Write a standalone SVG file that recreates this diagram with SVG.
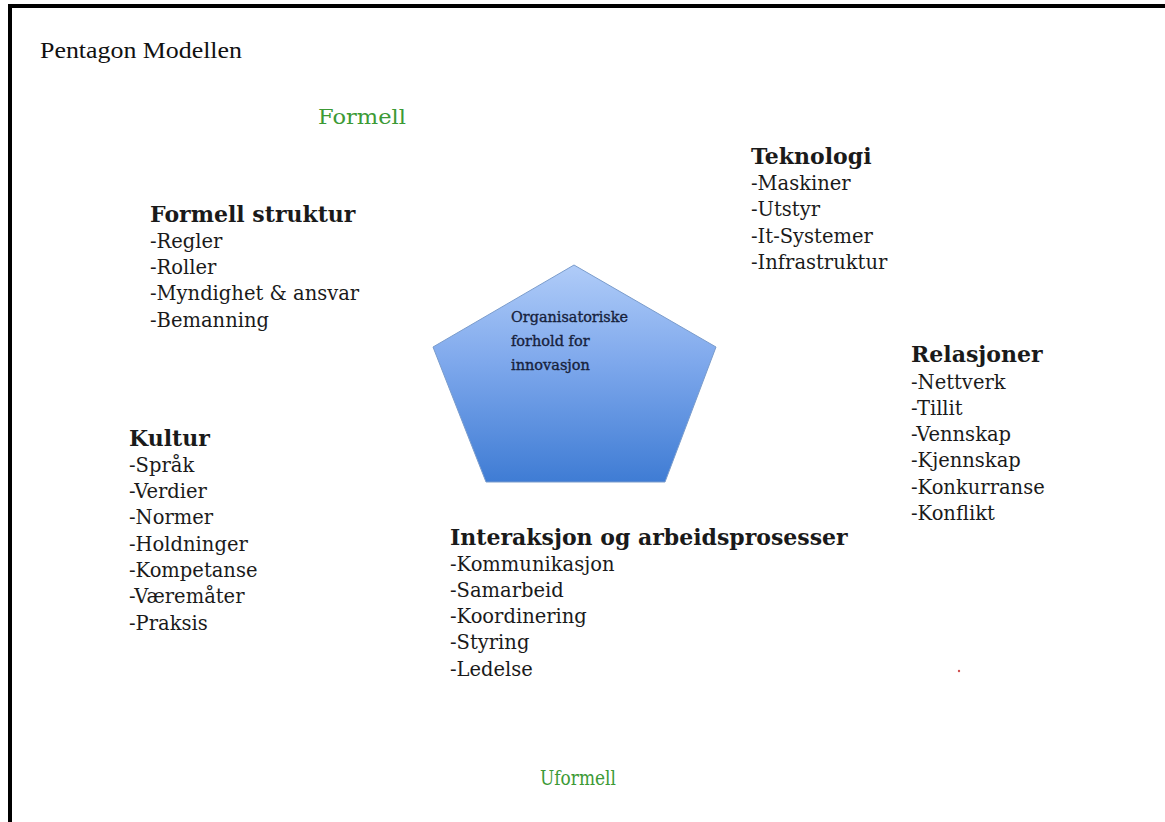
<svg xmlns="http://www.w3.org/2000/svg" width="1165" height="822" viewBox="0 0 1165 822">
<defs>
<linearGradient id="pg" x1="0" y1="0" x2="0" y2="1">
<stop offset="0" stop-color="#b0ccf8"/>
<stop offset="0.45" stop-color="#7ea8ec"/>
<stop offset="1" stop-color="#3f7cd4"/>
</linearGradient>
<style>
.t{font-family:"DejaVu Serif","Liberation Serif",serif;font-size:19.5px;fill:#1a1a1a}
.h{font-weight:bold;font-size:22px}
.g{font-family:"DejaVu Serif","Liberation Serif",serif;font-size:21px;fill:#3c9a35}
.c{font-family:"DejaVu Serif","Liberation Serif",serif;font-size:14.5px;fill:#17223c;stroke:#17223c;stroke-width:0.35px}
</style>
</defs>
<rect width="1165" height="822" fill="#ffffff"/>
<path d="M10 830 V6 H1175" fill="none" stroke="#000" stroke-width="4"/>
<text x="40" y="58" font-family="Liberation Serif,serif" font-size="24" fill="#111" textLength="202" lengthAdjust="spacingAndGlyphs">Pentagon Modellen</text>
<text class="g" x="318" y="124" textLength="88" lengthAdjust="spacingAndGlyphs">Formell</text>
<text class="g" x="540" y="785" textLength="76" lengthAdjust="spacingAndGlyphs">Uformell</text>
<g id="center">
<polygon points="574,265 716,347 665,482 486,482 433,347" fill="url(#pg)" stroke="#7a9ccc" stroke-width="1"/>
<text class="c" x="511" y="322" textLength="117" lengthAdjust="spacingAndGlyphs">Organisatoriske</text>
<text class="c" x="511" y="346">forhold for</text>
<text class="c" x="511" y="370">innovasjon</text>
</g>
<g id="teknologi">
<text class="t h" x="751" y="164">Teknologi</text>
<text class="t" x="751" y="190">-Maskiner</text>
<text class="t" x="751" y="216">-Utstyr</text>
<text class="t" x="751" y="243">-It-Systemer</text>
<text class="t" x="751" y="269">-Infrastruktur</text>
</g>
<g id="formell">
<text class="t h" x="150" y="222">Formell struktur</text>
<text class="t" x="150" y="248">-Regler</text>
<text class="t" x="150" y="274">-Roller</text>
<text class="t" x="150" y="300">-Myndighet &amp; ansvar</text>
<text class="t" x="150" y="327">-Bemanning</text>
</g>
<g id="relasjoner">
<text class="t h" x="911" y="362">Relasjoner</text>
<text class="t" x="911" y="389">-Nettverk</text>
<text class="t" x="911" y="415">-Tillit</text>
<text class="t" x="911" y="441">-Vennskap</text>
<text class="t" x="911" y="467">-Kjennskap</text>
<text class="t" x="911" y="494">-Konkurranse</text>
<text class="t" x="911" y="520">-Konflikt</text>
</g>
<g id="kultur">
<text class="t h" x="129" y="446">Kultur</text>
<text class="t" x="129" y="472">-Språk</text>
<text class="t" x="129" y="498">-Verdier</text>
<text class="t" x="129" y="524">-Normer</text>
<text class="t" x="129" y="551">-Holdninger</text>
<text class="t" x="129" y="577">-Kompetanse</text>
<text class="t" x="129" y="603">-Væremåter</text>
<text class="t" x="129" y="630">-Praksis</text>
</g>
<g id="interaksjon">
<text class="t h" x="450" y="545">Interaksjon og arbeidsprosesser</text>
<text class="t" x="450" y="571">-Kommunikasjon</text>
<text class="t" x="450" y="597">-Samarbeid</text>
<text class="t" x="450" y="623">-Koordinering</text>
<text class="t" x="450" y="649">-Styring</text>
<text class="t" x="450" y="676">-Ledelse</text>
</g>
<circle cx="959" cy="671" r="1.2" fill="#d05050"/>
</svg>
